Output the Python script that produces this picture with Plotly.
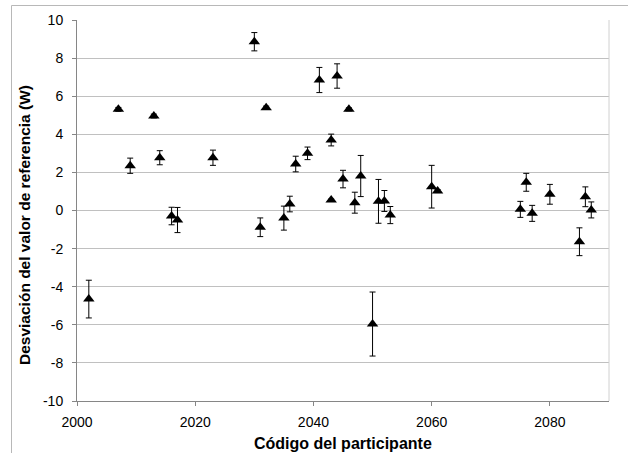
import plotly.graph_objects as go

codes = [2002, 2007, 2009, 2013, 2014, 2016, 2017, 2023, 2030, 2031, 2032, 2035, 2036,
         2037, 2039, 2041, 2043, 2043, 2044, 2045, 2046, 2047, 2048, 2050, 2051, 2052,
         2053, 2060, 2061, 2075, 2076, 2077, 2080, 2085, 2086, 2087]
desviacion = [-4.65, 5.31, 2.35, 4.96, 2.77, -0.29, -0.5, 2.77, 8.86, -0.88, 5.40, -0.4, 0.34,
              2.44, 3.0, 6.85, 3.70, 0.55, 7.06, 1.65, 5.31, 0.41, 1.81, -5.96, 0.48, 0.5,
              -0.24, 1.25, 1.02, 0.06, 1.48, -0.15, 0.85, -1.64, 0.72, 0.03]
incert = [0.99, 0.1, 0.4, 0.1, 0.37, 0.46, 0.66, 0.4, 0.48, 0.49, 0.08, 0.63, 0.41,
          0.41, 0.33, 0.66, 0.31, 0.05, 0.64, 0.46, 0.08, 0.55, 1.08, 1.68, 1.15, 0.55,
          0.45, 1.12, 0.08, 0.42, 0.47, 0.42, 0.52, 0.73, 0.52, 0.42]

x_ticks = [2000, 2020, 2040, 2060, 2080]
y_ticks = [-10, -8, -6, -4, -2, 0, 2, 4, 6, 8, 10]
y_ticktext = [str(v) for v in y_ticks]
x_title = "Código del participante"
y_title = "Desviación del valor de referencia (W)"

# plot area in pixels: left 77, right 609, top 20, bottom 401
L, R, T, B = 77, 609, 20, 401
W_, H_ = R - L, B - T


def px(x):
    return (x - L) / W_


def py(y):
    return (B - y) / H_


fig = go.Figure()
fig.add_trace(go.Scatter(
    x=codes, y=desviacion, mode="markers",
    marker=dict(symbol="triangle-up", size=10, color="black"),
    error_y=dict(type="data", array=incert, visible=True, color="black",
                 thickness=1, width=3),
    showlegend=False,
))

fig.update_layout(
    width=628, height=453,
    margin=dict(l=L, r=628 - R, t=T, b=453 - B),
    paper_bgcolor="white", plot_bgcolor="white",
    font=dict(family="Liberation Sans, Arial", size=14, color="black"),
    xaxis=dict(
        range=[2000, 2090], tickvals=x_ticks, showgrid=False, zeroline=False,
        showline=True, linecolor="#868686", linewidth=1,
        ticks="outside", ticklen=4, tickcolor="#868686",
        ticklabelstandoff=4,
    ),
    yaxis=dict(
        range=[-10, 10], tickvals=y_ticks, ticktext=y_ticktext,
        showgrid=True, gridcolor="#c0c0c0",
        zeroline=False, showline=True, linecolor="#868686", linewidth=1,
        ticks="outside", ticklen=4, tickcolor="#868686",
        ticklabelstandoff=6,
    ),
    annotations=[
        dict(text="<b>" + x_title + "</b>", xref="paper", yref="paper",
             x=px(343), y=py(443), xanchor="center", yanchor="middle",
             showarrow=False, font=dict(size=16)),
        dict(text="<b>" + y_title + "</b>", xref="paper", yref="paper",
             x=px(24), y=py(225), xanchor="center", yanchor="middle",
             textangle=-90, showarrow=False, font=dict(size=15.5)),
    ],
    shapes=[
        dict(type="line", xref="paper", yref="paper", x0=1, x1=1, y0=0, y1=1,
             line=dict(color="#d0d0d0", width=1)),
        dict(type="rect", xref="paper", yref="paper", layer="above",
             x0=px(11.5), x1=px(700), y0=py(5.5), y1=py(520),
             line=dict(color="#b8b8b8", width=1), fillcolor="rgba(0,0,0,0)"),
    ],
)

fig.write_html("out.html")
